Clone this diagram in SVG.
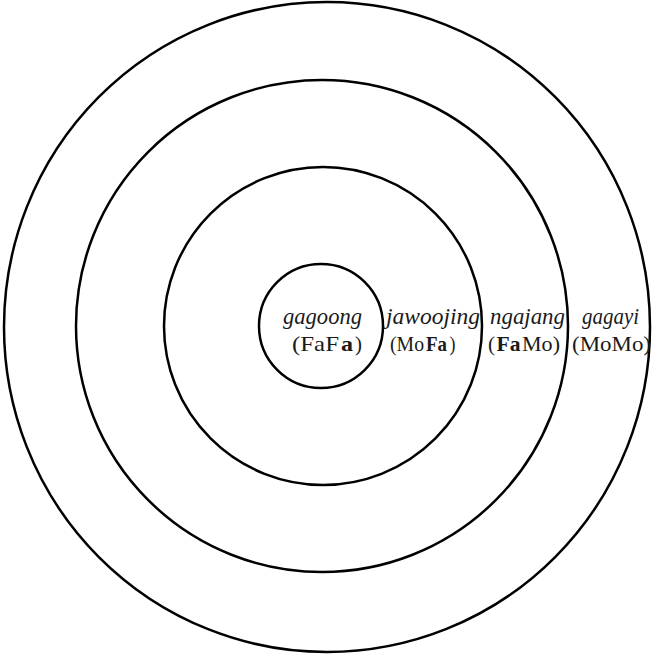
<svg xmlns="http://www.w3.org/2000/svg" width="652" height="657" viewBox="0 0 652 657">
<style>
.ring{fill:none;stroke:#000;stroke-width:2.5}
text{font-family:"Liberation Serif","Times New Roman",serif;font-size:23px;fill:#1a1a1a}
.it{font-style:italic}
.b{font-weight:bold}
.l2{font-size:22px}
</style>
<rect width="652" height="657" fill="#fff"/>
<g id="ring-gagayi"><ellipse class="ring" cx="327" cy="327" rx="323" ry="325"/></g>
<g id="ring-ngajang"><circle class="ring" cx="322" cy="326" r="246"/></g>
<g id="ring-jawoojing"><circle class="ring" cx="323" cy="326" r="159"/></g>
<g id="ring-gagoong"><circle class="ring" cx="321" cy="326" r="62"/></g>
<g id="label-gagoong">
<text class="it" x="283" y="324" textLength="79" lengthAdjust="spacingAndGlyphs">gagoong</text>
<text class="l2" x="292" y="351" textLength="47" lengthAdjust="spacingAndGlyphs">(FaF</text>
<text class="l2 b" x="341" y="351" textLength="12" lengthAdjust="spacingAndGlyphs">a</text>
<text class="l2" x="355" y="351" textLength="7" lengthAdjust="spacingAndGlyphs">)</text>
</g>
<g id="label-jawoojing">
<text class="it" x="386" y="324" textLength="94" lengthAdjust="spacingAndGlyphs">jawoojing</text>
<text class="l2" x="390" y="351" textLength="34" lengthAdjust="spacingAndGlyphs">(Mo</text>
<text class="l2 b" x="426" y="351" textLength="21" lengthAdjust="spacingAndGlyphs">Fa</text>
<text class="l2" x="449.5" y="351" textLength="6" lengthAdjust="spacingAndGlyphs">)</text>
</g>
<g id="label-ngajang">
<text class="it" x="490" y="324" textLength="75" lengthAdjust="spacingAndGlyphs">ngajang</text>
<text class="l2" x="488" y="351" textLength="7" lengthAdjust="spacingAndGlyphs">(</text>
<text class="l2 b" x="496.5" y="351" textLength="24" lengthAdjust="spacingAndGlyphs">Fa</text>
<text class="l2" x="522" y="351" textLength="38" lengthAdjust="spacingAndGlyphs">Mo)</text>
</g>
<g id="label-gagayi">
<text class="it" x="582" y="324" textLength="57" lengthAdjust="spacingAndGlyphs">gagayi</text>
<text class="l2" x="572" y="351" textLength="79" lengthAdjust="spacingAndGlyphs">(MoMo)</text>
</g>
<g id="connectors"></g>
</svg>
